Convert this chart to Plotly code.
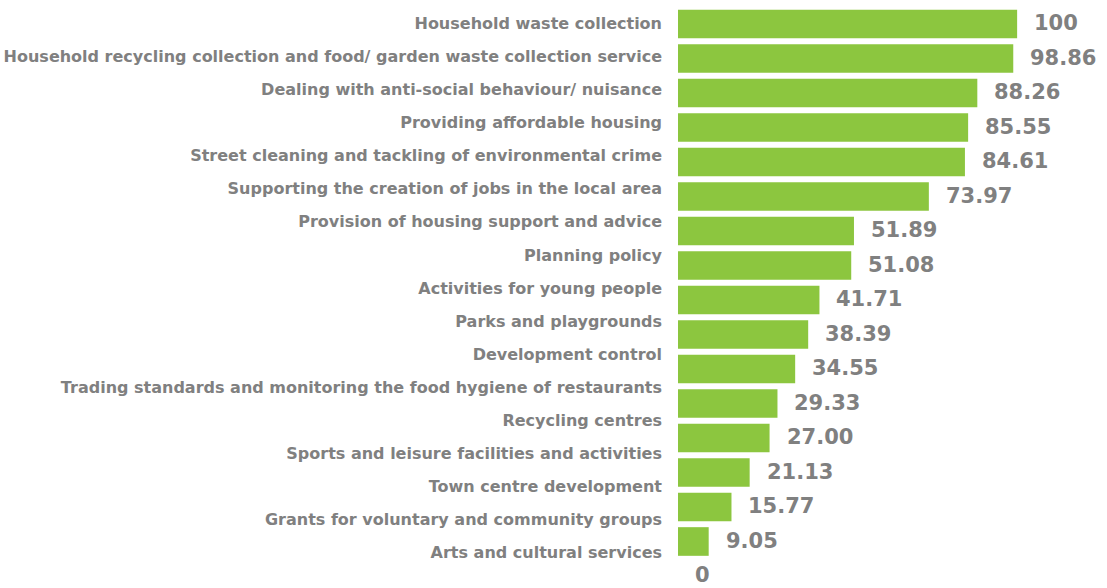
import plotly.graph_objects as go

# Service priorities, top to bottom, with their normalised scores (0-100)
services = [
    "Household waste collection",
    "Household recycling collection and food/ garden waste collection service",
    "Dealing with anti-social behaviour/ nuisance",
    "Providing affordable housing",
    "Street cleaning and tackling of environmental crime",
    "Supporting the creation of jobs in the local area",
    "Provision of housing support and advice",
    "Planning policy",
    "Activities for young people",
    "Parks and playgrounds",
    "Development control",
    "Trading standards and monitoring the food hygiene of restaurants",
    "Recycling centres",
    "Sports and leisure facilities and activities",
    "Town centre development",
    "Grants for voluntary and community groups",
    "Arts and cultural services",
]
scores = [100, 98.86, 88.26, 85.55, 84.61, 73.97, 51.89, 51.08, 41.71,
          38.39, 34.55, 29.33, 27.00, 21.13, 15.77, 9.05, 0]
score_labels = ["100", "98.86", "88.26", "85.55", "84.61", "73.97", "51.89",
                "51.08", "41.71", "38.39", "34.55", "29.33", "27.00", "21.13",
                "15.77", "9.05", "0"]

W, H = 1107, 588
BAR_GREEN = "#8cc63f"
GREY = "#808080"
FONT = "DejaVu Sans"

slots = list(range(len(scores)))

fig = go.Figure()

# bars on their own category scale
fig.add_trace(go.Bar(
    x=scores, y=slots, orientation="h",
    marker=dict(color=BAR_GREEN, line=dict(width=0)),
    hoverinfo="skip", yaxis="y",
))

# invisible trace carrying the service names on a second vertical axis
fig.add_trace(go.Scatter(
    x=[0] * len(services), y=slots, mode="markers",
    marker=dict(opacity=0), hoverinfo="skip", yaxis="y2", showlegend=False,
))

for i, (v, t) in enumerate(zip(scores, score_labels)):
    fig.add_annotation(
        x=v, y=i, xref="x", yref="y", text=t, showarrow=False,
        xanchor="left", yanchor="middle", xshift=15, yshift=1,
        font=dict(family=FONT, size=21, color=GREY, weight="bold"),
    )

bar_pitch = 34.5
bar_top = 24.0
lab_pitch = 33.06
lab_top = 23.5
y_lo = -bar_top / bar_pitch
y2_lo = -lab_top / lab_pitch

fig.update_layout(
    width=W, height=H,
    margin=dict(l=678, r=0, t=0, b=0),
    paper_bgcolor="white", plot_bgcolor="white",
    showlegend=False,
    bargap=0.17,
    xaxis=dict(range=[0, 126.5], visible=False, fixedrange=True),
    yaxis=dict(
        range=[y_lo + H / bar_pitch, y_lo], visible=False,
        showgrid=False, zeroline=False,
    ),
    yaxis2=dict(
        overlaying="y", side="left",
        range=[y2_lo + H / lab_pitch, y2_lo],
        tickmode="array", tickvals=slots, ticktext=services,
        showgrid=False, zeroline=False, showline=False, ticks="",
        ticklabelstandoff=15,
        tickfont=dict(family=FONT, size=16, color=GREY, weight="bold"),
    ),
)

fig.write_html("out.html")
